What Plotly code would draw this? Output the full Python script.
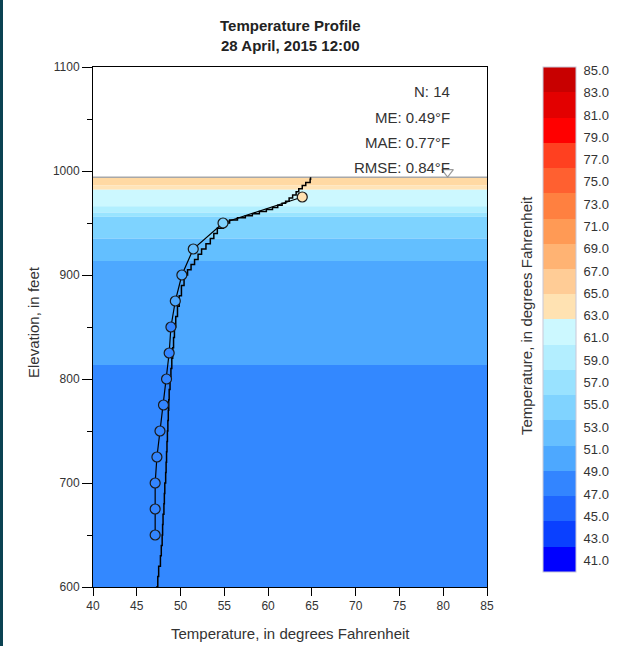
import plotly.graph_objects as go

# ---------------- data ----------------
obs_elev = [650, 675, 700, 725, 750, 775, 800, 825, 850, 875, 900, 925, 950, 975]
obs_temp = [47.1, 47.1, 47.1, 47.3, 47.65, 48.05, 48.4, 48.7, 48.9, 49.4, 50.15, 51.45, 54.85, 63.9]

model_elev = [600, 610, 620, 630, 640, 650, 660, 670, 680, 690, 700, 710, 720, 730, 740,
              750, 760, 770, 780, 790, 800, 810, 820, 830, 840, 850, 860, 870, 880, 890,
              900, 905, 910, 915, 920, 925, 930, 935, 940, 945, 950, 953, 955, 957, 959,
              961, 963, 965, 967, 969, 971, 974, 977, 980, 983, 986, 989, 992, 994]
model_temp = [47.2, 47.4, 47.5, 47.7, 47.8, 47.9, 47.95, 48.0, 48.1, 48.15, 48.2, 48.3, 48.35, 48.4, 48.45,
              48.5, 48.55, 48.6, 48.65, 48.7, 48.8, 48.9, 49.0, 49.1, 49.2, 49.3, 49.45, 49.65, 49.85, 50.1,
              50.4, 50.8, 51.2, 51.6, 52.0, 52.4, 52.9, 53.4, 53.8, 54.2, 54.9, 55.6, 56.5, 57.4, 58.2,
              59.0, 59.8, 60.5, 61.1, 61.6, 62.0, 62.4, 62.8, 63.2, 63.5, 63.9, 64.3, 64.8, 64.85]

# background temperature layers (top elevation, bottom elevation, colour)
band_top = [994, 986, 982, 966, 960, 956, 935, 913.5, 813.5]
band_bottom = [986, 982, 966, 960, 956, 935, 913.5, 813.5, 600]
band_color = ["#FFD9A3", "#FFE4B8", "#CCF8FF", "#B1EFFF", "#99E4FF", "#7ED3FF",
              "#63BFFF", "#4DA8FF", "#3388FF"]

water_surface = 994
surface_marker_temp = 80.5
surface_marker_elev = 999

stat_labels = ["N: 14", "ME: 0.49°F", "MAE: 0.77°F", "RMSE: 0.84°F"]
stat_elev = [1076, 1051, 1027, 1003]

cbar_colors = ["#0000FF", "#0A40FF", "#1F66FF", "#3385FF", "#4DA8FF", "#66BFFF",
               "#80D3FF", "#99E2FF", "#B3EEFF", "#CCF8FF",
               "#FFE2B2", "#FFCC96", "#FFB373", "#FF9A55", "#FF8040", "#FF6030",
               "#FF4020", "#FF0000", "#E30000", "#C80000"]
cbar_tickvals = list(range(41, 86, 2))
cbar_ticktext = [f"{v:.1f}" for v in cbar_tickvals]

x_ticks = list(range(40, 86, 5))
y_ticks = list(range(600, 1101, 100))

# ---------------- figure ----------------
n = len(cbar_colors)
colorscale = []
for i, c in enumerate(cbar_colors):
    colorscale.append([i / n, c])
    colorscale.append([(i + 1) / n, c])

FONT = "Liberation Sans, Arial, sans-serif"

fig = go.Figure()

shapes = []
for t, b, c in zip(band_top, band_bottom, band_color):
    shapes.append(dict(type="rect", xref="paper", yref="y", x0=0, x1=1, y0=b, y1=t,
                       fillcolor=c, line=dict(width=0), layer="below"))
shapes.append(dict(type="line", xref="paper", yref="y", x0=0, x1=1,
                   y0=water_surface, y1=water_surface,
                   line=dict(color="#A8A8A8", width=1.5), layer="below"))
# dark frame edge on the left of the picture
shapes.append(dict(type="rect", xref="paper", yref="paper",
                   x0=(0 - 93) / 394, x1=(3 - 93) / 394, y0=-0.2, y1=1.2,
                   fillcolor="#0B4252", line=dict(width=0)))

fig.add_trace(go.Scatter(
    x=model_temp, y=model_elev, mode="lines", line=dict(color="black", width=1.5, shape="hv"),
    showlegend=False, hoverinfo="skip"))

fig.add_trace(go.Scatter(
    x=obs_temp, y=obs_elev, mode="lines+markers",
    line=dict(color="black", width=1.2),
    marker=dict(size=10, color=obs_temp, colorscale=colorscale, cmin=40.0, cmax=85.3,
                line=dict(color="#1a1a1a", width=1.2), showscale=True,
                colorbar=dict(
                    x=(543 - 93) / 394, xanchor="left", xpad=0,
                    y=1.0, yanchor="top", ypad=0,
                    len=505, lenmode="pixels", thickness=33, thicknessmode="pixels",
                    outlinecolor="#C8C8D8", outlinewidth=1,
                    tickvals=cbar_tickvals, ticktext=cbar_ticktext,
                    ticks="outside", ticklen=5, tickcolor="rgba(0,0,0,0)",
                    tickfont=dict(family=FONT, size=13, color="#333"),
                )),
    showlegend=False))

fig.add_trace(go.Scatter(
    x=[surface_marker_temp], y=[surface_marker_elev], mode="markers",
    marker=dict(symbol="triangle-down-open", size=10, color="#9A9A9A", line=dict(width=1.2)),
    showlegend=False, hoverinfo="skip"))

annotations = []
for lab, e in zip(stat_labels, stat_elev):
    annotations.append(dict(x=81.0, y=e, xref="x", yref="y", text=lab, showarrow=False,
                            xanchor="right", yanchor="middle",
                            font=dict(family=FONT, size=15, color="#333")))

annotations += [
    dict(x=0.5, y=(587 - 25) / 520, xref="paper", yref="paper", text="<b>Temperature Profile</b>",
         showarrow=False, xanchor="center", yanchor="middle",
         font=dict(family=FONT, size=15, color="#222")),
    dict(x=0.5, y=(587 - 46) / 520, xref="paper", yref="paper", text="<b>28 April, 2015 12:00</b>",
         showarrow=False, xanchor="center", yanchor="middle",
         font=dict(family=FONT, size=15, color="#222")),
    dict(x=0.5, y=(587 - 633) / 520, xref="paper", yref="paper",
         text="Temperature, in degrees Fahrenheit",
         showarrow=False, xanchor="center", yanchor="middle",
         font=dict(family=FONT, size=15, color="#333")),
    dict(x=(33 - 93) / 394, y=(587 - 322) / 520, xref="paper", yref="paper",
         text="Elevation, in feet", textangle=-90,
         showarrow=False, xanchor="center", yanchor="middle",
         font=dict(family=FONT, size=15, color="#333")),
    dict(x=(526 - 93) / 394, y=(587 - 316) / 520, xref="paper", yref="paper",
         text="Temperature, in degrees Fahrenheit", textangle=-90,
         showarrow=False, xanchor="center", yanchor="middle",
         font=dict(family=FONT, size=15, color="#333")),
]

fig.update_layout(
    width=641, height=646,
    margin=dict(l=93, r=154, t=67, b=59),
    paper_bgcolor="white", plot_bgcolor="white",
    shapes=shapes, annotations=annotations,
    font=dict(family=FONT),
    xaxis=dict(range=[40, 85], tickvals=x_ticks, ticks="outside", ticklen=8, tickcolor="black",
               showline=True, linecolor="black", linewidth=1, mirror=True,
               showgrid=False, zeroline=False,
               tickfont=dict(family=FONT, size=12, color="#333")),
    yaxis=dict(range=[600, 1100], tickvals=y_ticks, ticks="outside", ticklen=10, tickcolor="black",
               showline=True, linecolor="black", linewidth=1, mirror=True,
               showgrid=False, zeroline=False,
               minor=dict(dtick=50, tick0=600, ticks="outside", ticklen=5, tickcolor="black", showgrid=False),
               tickfont=dict(family=FONT, size=12, color="#333")),
)

fig.write_html("out.html")
